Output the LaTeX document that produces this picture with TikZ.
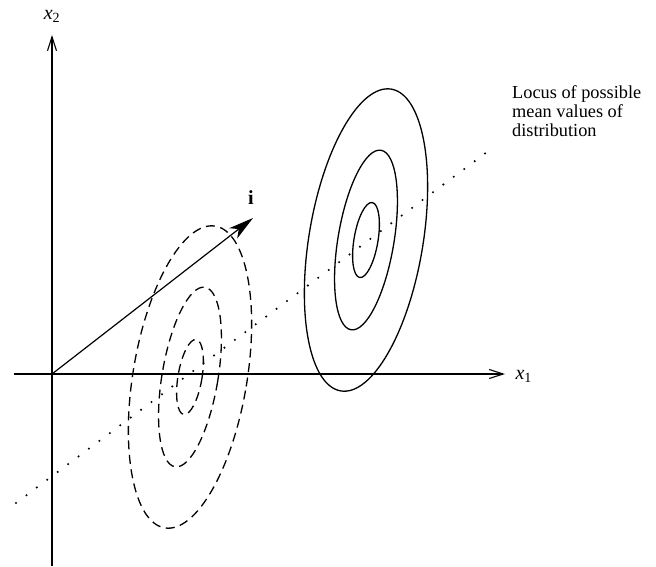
\documentclass[tikz,border=0pt]{standalone}
\usepackage{fontspec}
\setmainfont{Liberation Serif}
\usetikzlibrary{arrows.meta}
\begin{document}
\begin{tikzpicture}[x=1pt,y=1pt,
  axis/.style={line width=1.1pt,-{Straight Barb[length=14pt,width=9pt,line width=1.1pt]}},
  vec/.style={line width=1.2pt,-{Stealth[length=25pt,width=13pt,inset=7pt]}},
  locus/.style={line width=2.3pt,line cap=round,dash pattern=on 0pt off 13pt},
  solidell/.style={line width=1.3pt},
  dashell/.style={line width=1.3pt,dash pattern=on 9pt off 5.5pt},
  lab/.style={font=\fontsize{20}{24}\selectfont},
  note/.style={font=\fontsize{18.3}{19}\selectfont,align=left,anchor=north west,inner sep=0pt}]
\useasboundingbox (0,0) rectangle (656,566);
\coordinate (O) at (52,192);
\coordinate (ybot) at (52,0);
\coordinate (ytop) at (52,531);
\coordinate (xleft) at (14,192);
\coordinate (xtip) at (505,192);
\coordinate (itip) at (253,348);
\coordinate (la) at (16,63);
\coordinate (lb) at (487,414);
\coordinate (cs) at (366,326);
\coordinate (cd) at (190,189);
% axes
\draw[axis] (ybot) -- (ytop);
\draw[axis] (xleft) -- (xtip);
\node[lab] (x2) at (52,550) {\textit{x}\textsubscript{2}};
\node[lab,anchor=west] (x1) at (512,190) {\textit{x}\textsubscript{1}};
% locus line
\draw[locus] (la) -- (lb);
% vector i
\draw[vec] (O) -- (itip);
\node[lab] (ilab) at (251,368) {\textbf{i}};
% solid ellipses
\begin{scope}[rotate around={-9.5:(cs)}]
\draw[solidell] (cs) ellipse [x radius=57, y radius=153];
\draw[solidell] (cs) ellipse [x radius=28, y radius=91];
\draw[solidell] (cs) ellipse [x radius=12, y radius=38];
\end{scope}
% dashed ellipses
\begin{scope}[rotate around={-9.5:(cd)}]
\draw[dashell] (cd) ellipse [x radius=57, y radius=153];
\draw[dashell] (cd) ellipse [x radius=28, y radius=91];
\draw[dashell] (cd) ellipse [x radius=12, y radius=38];
\end{scope}
\node[note] (txt) at (512,481) {Locus of possible\\mean values of\\distribution};
\end{tikzpicture}
\end{document}
